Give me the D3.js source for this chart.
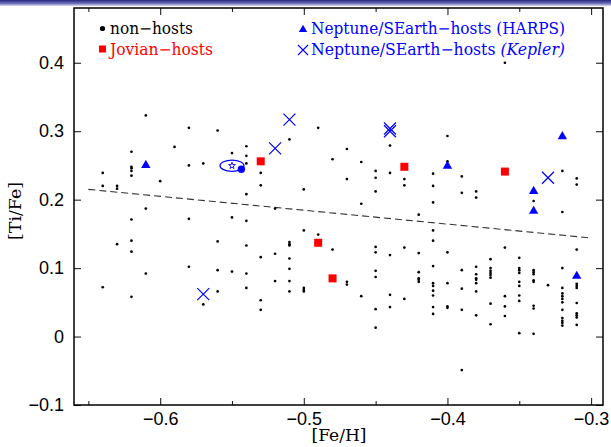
<!DOCTYPE html>
<html><head><meta charset="utf-8">
<script src="https://cdn.jsdelivr.net/npm/d3@7"></script>
<style>body{margin:0;background:#fff}svg{display:block}</style>
</head><body><svg id="c" width="611" height="447"></svg>
<script>
// ---- data ----
const xTicks = [-0.6, -0.5, -0.4, -0.3];
const xMinorTicks = [-0.65, -0.55, -0.45, -0.35];
const yTicks = [-0.1, 0, 0.1, 0.2, 0.3, 0.4];

// non-hosts: [Fe/H] columns and the [Ti/Fe] values found in each column
const nonHostFeHColumns = [-0.64,-0.63,-0.62,-0.61,-0.60,-0.59,-0.58,-0.57,-0.56,-0.55,-0.54,-0.53,-0.52,-0.51,-0.50,-0.49,-0.48,-0.47,-0.46,-0.45,-0.44,-0.43,-0.42,-0.41,-0.40,-0.39,-0.38,-0.37,-0.36,-0.35,-0.34,-0.33,-0.32,-0.31];
const nonHostTiFeByColumn = [
  [0.239, 0.220, 0.072],
  [0.220, 0.216, 0.135],
  [0.270, 0.248, 0.246, 0.242, 0.235, 0.171, 0.140, 0.124, 0.058],
  [0.323, 0.187, 0.092],
  [0.227],
  [0.277],
  [0.305, 0.250, 0.172, 0.102],
  [0.253, 0.047],
  [0.301, 0.139, 0.097, 0.066],
  [0.268, 0.174, 0.095],
  [0.278, 0.264, 0.253, 0.208, 0.169, 0.133, 0.092, 0.071],
  [0.239, 0.221, 0.116, 0.053, 0.039],
  [0.187, 0.121, 0.081],
  [0.288, 0.138, 0.135, 0.133, 0.114, 0.099, 0.081, 0.066],
  [0.215, 0.155, 0.071, 0.068, 0.066],
  [0.305, 0.149],
  [0.259, 0.127],
  [0.274, 0.230, 0.080, 0.076],
  [0.255, 0.194, 0.059],
  [0.242, 0.232, 0.212, 0.131, 0.123, 0.096, 0.087, 0.040, 0.013],
  [0.279, 0.239, 0.119, 0.061, 0.043],
  [0.230, 0.221, 0.130, 0.055],
  [0.178, 0.122, 0.094, 0.085, 0.083, 0.080],
  [0.238, 0.220, 0.196, 0.155, 0.140, 0.103, 0.078, 0.074, 0.067, 0.060, 0.043, 0.033],
  [0.293, 0.256, 0.123, 0.078, 0.044, 0.042],
  [0.234, 0.210, 0.097, 0.070, 0.039, -0.049],
  [0.212, 0.203, 0.102, 0.091, 0.085, 0.083, 0.078, 0.066, 0.031],
  [0.113, 0.100, 0.096, 0.093, 0.090, 0.086, 0.048, 0.018],
  [0.400, 0.130, 0.059, 0.044, 0.030],
  [0.115, 0.100, 0.097, 0.093, 0.080, 0.074, 0.060, 0.052, 0.005],
  [0.198, 0.097, 0.094, 0.091, 0.082, 0.080, 0.045, 0.041, 0.004],
  [0.075],
  [0.242, 0.182, 0.100, 0.071, 0.063, 0.059, 0.055, 0.050, 0.039, 0.027, 0.023, 0.020, 0.016],
  [0.231, 0.222, 0.127, 0.077, 0.074, 0.071, 0.049, 0.034, 0.031, 0.028, 0.017]
];

const jovianFeH  = [-0.53, -0.43, -0.36, -0.49, -0.48];
const jovianTiFe = [0.256, 0.248, 0.241, 0.137, 0.085];

const harpsFeH  = [-0.61, -0.40, -0.32, -0.34, -0.34, -0.31];
const harpsTiFe = [0.251, 0.250, 0.293, 0.213, 0.184, 0.089];

const keplerFeH  = [-0.51, -0.52, -0.44, -0.44, -0.33, -0.57];
const keplerTiFe = [0.317, 0.275, 0.304, 0.300, 0.232, 0.062];

// star with planet (orbit symbol)
const systemFeH = [-0.55], systemTiFe = [0.2496];
const planetFeH = [-0.5435], planetTiFe = [0.2445];

// dashed trend line
const fitFeH  = [-0.65, -0.30];
const fitTiFe = [0.215, 0.144];

const legendLeft  = ["non−hosts", "Jovian−hosts"];
const legendRight = ["Neptune/SEarth−hosts ", "(HARPS)", "(Kepler)"];

// ---- drawing ----
const svg = d3.select('#c');
const L = 74, R = 603, T = 8, B = 405;
const x = d3.scaleLinear([-0.66, -0.2917], [L, R]);
const y = d3.scaleLinear([-0.1, 0.48], [B, T]);
const BLUE = '#0000ff', RED = '#ff0000';

// slide header band
const defs = svg.append('defs');
const grad = defs.append('linearGradient').attr('id','hdr').attr('x1',0).attr('y1',0).attr('x2',0).attr('y2',1);
grad.append('stop').attr('offset','0').attr('stop-color','#26267f');
grad.append('stop').attr('offset','0.55').attr('stop-color','#6a6ab8');
grad.append('stop').attr('offset','1').attr('stop-color','#dcdcf2');
svg.append('rect').attr('x',0).attr('y',0).attr('width',611).attr('height',6).attr('fill','url(#hdr)');

const fmt = d => d === 0 ? '0' : d3.format('.1f')(d);
function styleAxis(g){
  g.select('.domain').remove();
  g.selectAll('.tick line').attr('stroke','#222').attr('stroke-width',1.1);
  g.selectAll('.tick text').attr('fill','#000').style('font-family','"Liberation Sans", Arial, sans-serif').style('font-size','18px');
}
svg.append('g').attr('transform',`translate(0,${B})`)
  .call(d3.axisBottom(x).tickValues(xTicks).tickSize(-7).tickPadding(7).tickFormat(fmt)).call(styleAxis);
svg.append('g').attr('transform',`translate(0,${B})`)
  .call(d3.axisBottom(x).tickValues(xMinorTicks).tickSize(-4).tickFormat('')).call(styleAxis);
svg.append('g').attr('transform',`translate(0,${T})`)
  .call(d3.axisTop(x).tickValues(xTicks).tickSize(-7).tickFormat('')).call(styleAxis);
svg.append('g').attr('transform',`translate(0,${T})`)
  .call(d3.axisTop(x).tickValues(xMinorTicks).tickSize(-4).tickFormat('')).call(styleAxis);
svg.append('g').attr('transform',`translate(${L},0)`)
  .call(d3.axisLeft(y).tickValues(yTicks).tickSize(-7).tickPadding(10).tickFormat(fmt)).call(styleAxis);
svg.append('g').attr('transform',`translate(${R},0)`)
  .call(d3.axisRight(y).tickValues(yTicks).tickSize(-7).tickFormat('')).call(styleAxis);

svg.append('rect').attr('x',L).attr('y',T).attr('width',R-L).attr('height',B-T)
  .attr('fill','none').attr('stroke','#000').attr('stroke-width',1.5);

// axis titles
svg.append('text').attr('x',339).attr('y',441).attr('text-anchor','middle')
  .style('font-family','"DejaVu Serif", serif').style('font-size','16px')
  .attr('textLength',55).attr('lengthAdjust','spacingAndGlyphs').text('[Fe/H]');
svg.append('text').attr('transform','translate(21,211) rotate(-90)').attr('text-anchor','middle')
  .style('font-family','"DejaVu Serif", serif').style('font-size','16px')
  .attr('textLength',58).attr('lengthAdjust','spacingAndGlyphs').text('[Ti/Fe]');

// trend line
const fitData = fitFeH.map((f,i)=>[f, fitTiFe[i]]);
svg.append('path').datum(fitData)
  .attr('d', d3.line().x(d=>x(d[0])).y(d=>y(d[1])))
  .attr('fill','none').attr('stroke','#333').attr('stroke-width',1.1).attr('stroke-dasharray','7,4');

// non-hosts
const nonHosts = [];
nonHostFeHColumns.forEach((f,i)=> nonHostTiFeByColumn[i].forEach(t => nonHosts.push([f,t])));
svg.append('g').selectAll('circle').data(nonHosts).join('circle')
  .attr('cx',d=>x(d[0])).attr('cy',d=>y(d[1])).attr('r',1.35).attr('fill','#000');

// system symbol
systemFeH.forEach((f,i)=>{
  const g = svg.append('g').attr('transform',`translate(${x(f)},${y(systemTiFe[i])})`);
  g.append('ellipse').attr('rx',12).attr('ry',5.6).attr('fill','none').attr('stroke',BLUE).attr('stroke-width',1.2);
  g.append('path').attr('d', d3.symbol(d3.symbolStar, 14)()).attr('fill','none').attr('stroke',BLUE).attr('stroke-width',0.9);
});
svg.append('g').selectAll('circle').data(planetFeH.map((f,i)=>[f,planetTiFe[i]])).join('circle')
  .attr('cx',d=>x(d[0])).attr('cy',d=>y(d[1])).attr('r',3.7).attr('fill',BLUE);

// Jovian hosts
svg.append('g').selectAll('rect').data(jovianFeH.map((f,i)=>[f,jovianTiFe[i]])).join('rect')
  .attr('x',d=>x(d[0])-4).attr('y',d=>y(d[1])-4).attr('width',8).attr('height',8).attr('fill',RED);

// HARPS hosts
const tri = d3.symbol(d3.symbolTriangle, 38)();
svg.append('g').selectAll('path').data(harpsFeH.map((f,i)=>[f,harpsTiFe[i]])).join('path')
  .attr('transform',d=>`translate(${x(d[0])},${y(d[1])+0.5})`).attr('d',tri).attr('fill',BLUE);

// Kepler hosts
const cross = s => `M${-s},${-s}L${s},${s}M${-s},${s}L${s},${-s}`;
svg.append('g').selectAll('path').data(keplerFeH.map((f,i)=>[f,keplerTiFe[i]])).join('path')
  .attr('transform',d=>`translate(${x(d[0])},${y(d[1])})`).attr('d',cross(6))
  .attr('fill','none').attr('stroke',BLUE).attr('stroke-width',1.2);

// legend
const lf = '"DejaVu Serif", serif';
const leg = svg.append('g').style('font-family',lf).style('font-size','16px');
leg.append('circle').attr('cx',102.5).attr('cy',28.5).attr('r',2.6).attr('fill','#000');
leg.append('text').attr('x',110).attr('y',33.5).attr('fill','#000')
  .attr('textLength',83).attr('lengthAdjust','spacingAndGlyphs').text(legendLeft[0]);
leg.append('rect').attr('x',99).attr('y',45.5).attr('width',7).attr('height',7).attr('fill',RED);
leg.append('text').attr('x',110).attr('y',54.5).attr('fill',RED)
  .attr('textLength',103).attr('lengthAdjust','spacingAndGlyphs').text(legendLeft[1]);
leg.append('path').attr('transform','translate(303,29.5)').attr('d',d3.symbol(d3.symbolTriangle,30)()).attr('fill',BLUE);
leg.append('text').attr('x',311).attr('y',33.5).attr('fill',BLUE)
  .attr('textLength',254).attr('lengthAdjust','spacingAndGlyphs').text(legendRight[0] + legendRight[1]);
leg.append('path').attr('transform','translate(303,50)').attr('d',cross(5)).attr('fill','none').attr('stroke',BLUE).attr('stroke-width',1.1);
const kt = leg.append('text').attr('x',311).attr('y',54.5).attr('fill',BLUE)
  .attr('textLength',254).attr('lengthAdjust','spacingAndGlyphs');
kt.append('tspan').text(legendRight[0]);
kt.append('tspan').style('font-style','italic').text(legendRight[2]);
</script></body></html>
